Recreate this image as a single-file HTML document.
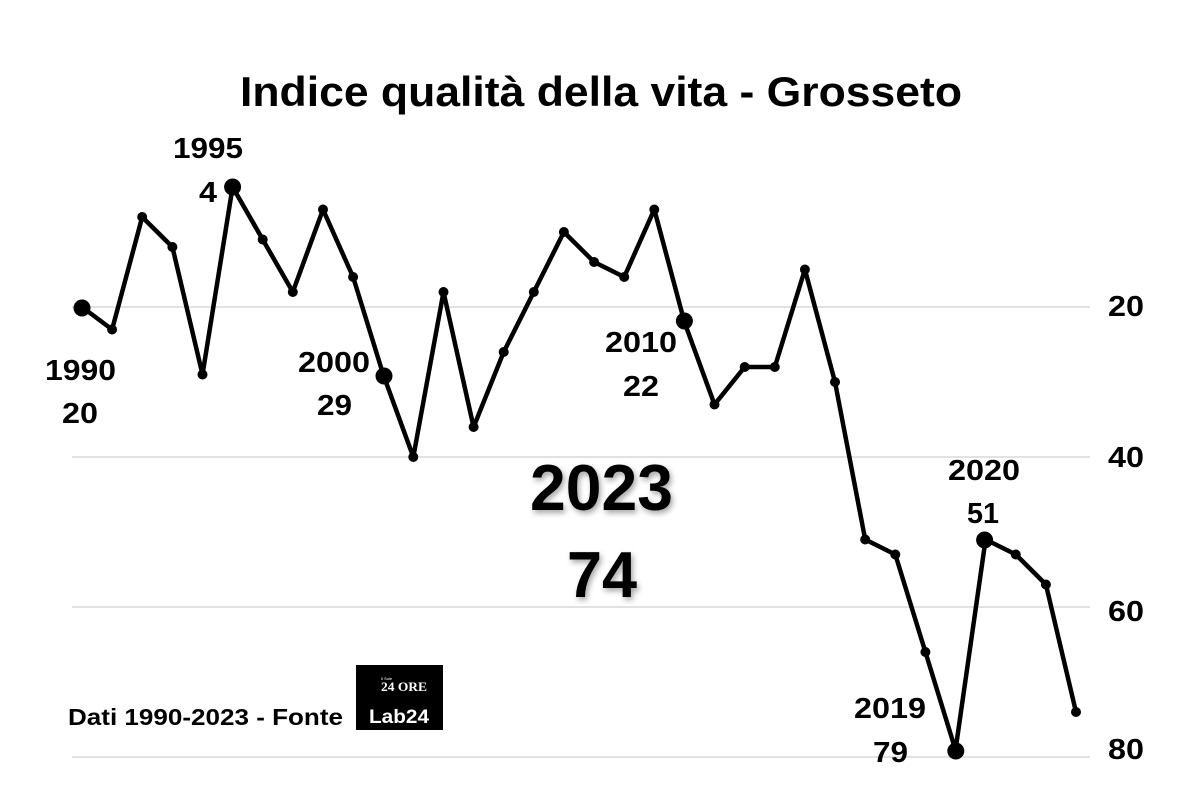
<!DOCTYPE html>
<html>
<head>
<meta charset="utf-8">
<style>
html,body{margin:0;padding:0;background:#fff;}
svg{display:block;}
text{font-family:"Liberation Sans","DejaVu Sans",sans-serif;font-weight:bold;fill:#000;}
</style>
</head>
<body>
<svg width="1200" height="800" viewBox="0 0 1200 800" xmlns="http://www.w3.org/2000/svg">
<defs>
<filter id="sh" x="-20%" y="-20%" width="140%" height="160%">
<feDropShadow dx="2" dy="3" stdDeviation="3" flood-color="#000" flood-opacity="0.35"/>
</filter>
</defs>
<rect width="1200" height="800" fill="#fff"/>

<!-- title -->
<text x="240" y="106" font-size="42" textLength="722" lengthAdjust="spacingAndGlyphs">Indice qualità della vita - Grosseto</text>

<!-- gridlines -->
<g stroke="#d9d9d9" stroke-width="1.5">
<line x1="72" y1="307" x2="1090" y2="307"/>
<line x1="72" y1="457" x2="1090" y2="457"/>
<line x1="72" y1="607" x2="1090" y2="607"/>
<line x1="72" y1="757" x2="1090" y2="757"/>
</g>

<!-- axis labels -->
<g font-size="29">
<text x="1108" y="316" textLength="36" lengthAdjust="spacingAndGlyphs">20</text>
<text x="1108" y="467" textLength="36" lengthAdjust="spacingAndGlyphs">40</text>
<text x="1108" y="621" textLength="36" lengthAdjust="spacingAndGlyphs">60</text>
<text x="1108" y="759" textLength="36" lengthAdjust="spacingAndGlyphs">80</text>
</g>

<!-- big center label -->
<g filter="url(#sh)">
<text x="530" y="510" font-size="65" textLength="143" lengthAdjust="spacingAndGlyphs">2023</text>
<text x="567" y="597" font-size="65" textLength="70" lengthAdjust="spacingAndGlyphs">74</text>
</g>

<!-- series -->
<polyline fill="none" stroke="#000" stroke-width="4.5" stroke-linejoin="round" points="82,307 112.1,329.5 142.2,217 172.4,247 202.5,374.5 232.6,187 262.7,239.5 292.8,292 323,209.5 353.1,277 383.2,374.5 413.3,457 443.5,292 473.6,427 503.7,352 533.8,292 563.9,232 594.1,262 624.2,277 654.3,209.5 684.4,322 714.5,404.5 744.7,367 774.8,367 804.9,269.5 835,382 865.2,539.5 895.3,554.5 925.4,652 955.5,750 985.6,539.5 1015.8,554.5 1045.9,584.5 1076,712"/>
<g fill="#000">
<circle cx="112.1" cy="329.5" r="5"/>
<circle cx="142.2" cy="217" r="5"/>
<circle cx="172.4" cy="247" r="5"/>
<circle cx="202.5" cy="374.5" r="5"/>
<circle cx="262.7" cy="239.5" r="5"/>
<circle cx="292.8" cy="292" r="5"/>
<circle cx="323" cy="209.5" r="5"/>
<circle cx="353.1" cy="277" r="5"/>
<circle cx="413.3" cy="457" r="5"/>
<circle cx="443.5" cy="292" r="5"/>
<circle cx="473.6" cy="427" r="5"/>
<circle cx="503.7" cy="352" r="5"/>
<circle cx="533.8" cy="292" r="5"/>
<circle cx="563.9" cy="232" r="5"/>
<circle cx="594.1" cy="262" r="5"/>
<circle cx="624.2" cy="277" r="5"/>
<circle cx="654.3" cy="209.5" r="5"/>
<circle cx="714.5" cy="404.5" r="5"/>
<circle cx="744.7" cy="367" r="5"/>
<circle cx="774.8" cy="367" r="5"/>
<circle cx="804.9" cy="269.5" r="5"/>
<circle cx="835" cy="382" r="5"/>
<circle cx="865.2" cy="539.5" r="5"/>
<circle cx="895.3" cy="554.5" r="5"/>
<circle cx="925.4" cy="652" r="5"/>
<circle cx="1015.8" cy="554.5" r="5"/>
<circle cx="1045.9" cy="584.5" r="5"/>
<circle cx="1076" cy="712" r="5"/>
<circle cx="82" cy="308" r="8.5"/>
<circle cx="232.6" cy="187" r="8.5"/>
<circle cx="384" cy="376" r="8.5"/>
<circle cx="684.4" cy="321" r="8.5"/>
<circle cx="955.8" cy="751" r="8.5"/>
<circle cx="984.6" cy="540" r="8.5"/>
</g>

<!-- data labels -->
<g font-size="29">
<text x="173" y="158" textLength="70" lengthAdjust="spacingAndGlyphs">1995</text>
<text x="199" y="202" textLength="18" lengthAdjust="spacingAndGlyphs">4</text>
<text x="45" y="380" textLength="71" lengthAdjust="spacingAndGlyphs">1990</text>
<text x="62" y="423" textLength="36" lengthAdjust="spacingAndGlyphs">20</text>
<text x="298" y="372" textLength="72" lengthAdjust="spacingAndGlyphs">2000</text>
<text x="317" y="415" textLength="35" lengthAdjust="spacingAndGlyphs">29</text>
<text x="605" y="352" textLength="72" lengthAdjust="spacingAndGlyphs">2010</text>
<text x="623" y="396" textLength="36" lengthAdjust="spacingAndGlyphs">22</text>
<text x="948" y="480" textLength="72" lengthAdjust="spacingAndGlyphs">2020</text>
<text x="967" y="523" textLength="32" lengthAdjust="spacingAndGlyphs">51</text>
<text x="854" y="718" textLength="72" lengthAdjust="spacingAndGlyphs">2019</text>
<text x="873" y="762" textLength="35" lengthAdjust="spacingAndGlyphs">79</text>
</g>

<!-- footer -->
<text x="68" y="725" font-size="23" textLength="275" lengthAdjust="spacingAndGlyphs">Dati 1990-2023 - Fonte</text>
<rect x="356" y="665" width="87" height="65" fill="#000"/>
<text x="381" y="680" font-size="4" style="fill:#fff;font-weight:normal">Il Sole</text>
<text x="381" y="691" font-size="13" textLength="46" lengthAdjust="spacingAndGlyphs" style="fill:#fff;font-family:'Liberation Serif',serif;">24 ORE</text>
<text x="369" y="723" font-size="19" textLength="60" lengthAdjust="spacingAndGlyphs" style="fill:#fff;">Lab24</text>
</svg>
</body>
</html>
